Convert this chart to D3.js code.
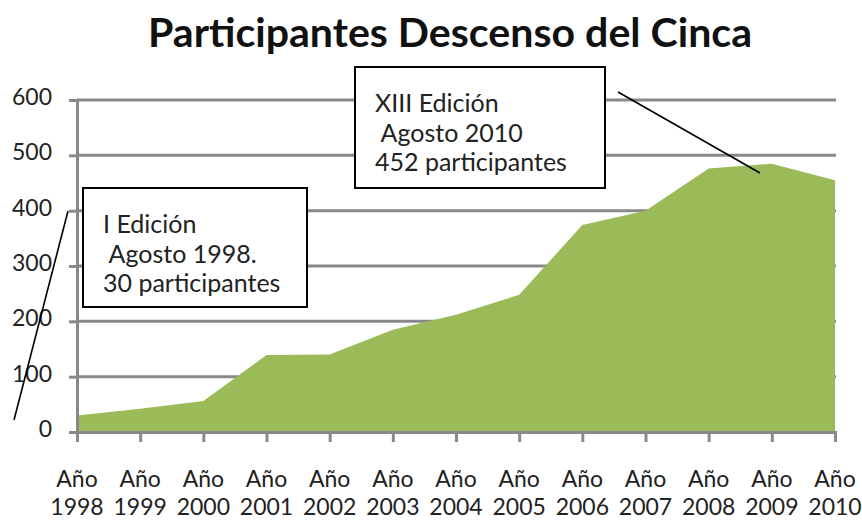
<!DOCTYPE html>
<html>
<head>
<meta charset="utf-8">
<script src="https://cdn.jsdelivr.net/npm/d3@7"></script>
<style>
  body { margin: 0; background: #fff; }
  svg { display: block; }
  text { font-family: Lato, "Open Sans", sans-serif; }
</style>
</head>
<body>
<div id="chart"></div>
<script>
// data
var years = ['1998', '1999', '2000', '2001', '2002', '2003', '2004', '2005', '2006', '2007', '2008', '2009', '2010'];
var participants = [30, 42, 56, 139, 140, 185, 212, 248, 374, 400, 476, 485, 455];
var yTicks = [0, 100, 200, 300, 400, 500, 600];
var title = 'Participantes Descenso del Cinca';
var noteFirst = ['I Edición', ' Agosto 1998.', '30 participantes'];
var noteLast = ['XIII Edición', ' Agosto 2010', '452 participantes'];

var W = 862, H = 522;
var plotLeft = 77, plotRight = 835, plotTop = 100, plotBottom = 432;

var svg = d3.select('#chart').append('svg')
    .attr('width', W)
    .attr('height', H);

var x = d3.scalePoint()
    .domain(years)
    .range([plotLeft, plotRight]);

var y = d3.scaleLinear()
    .domain([0, 600])
    .range([plotBottom, plotTop]);

var data = years.map(function (d, i) { return { year: d, value: participants[i] }; });

// title
svg.append('text')
    .attr('x', 148)
    .attr('y', 47)
    .attr('textLength', 604)
    .attr('lengthAdjust', 'spacingAndGlyphs')
    .style('font-size', '40px')
    .style('font-weight', 'bold')
    .style('fill', '#111')
    .text(title);

// gridlines
svg.append('g')
    .selectAll('line')
    .data(yTicks.slice(1))
    .enter().append('line')
    .attr('x1', plotLeft)
    .attr('x2', plotRight + 1)
    .attr('y1', function (d) { return y(d); })
    .attr('y2', function (d) { return y(d); })
    .attr('stroke', '#898989')
    .attr('stroke-width', 3);

// area
var area = d3.area()
    .x(function (d) { return x(d.year); })
    .y0(y(0))
    .y1(function (d) { return y(d.value); });

svg.append('path')
    .datum(data)
    .attr('fill', '#9bbb59')
    .attr('d', area);

// y axis
var yaxis = svg.append('g')
    .attr('transform', 'translate(' + plotLeft + ',0)')
    .call(d3.axisLeft(y).tickValues(yTicks).tickSize(8).tickPadding(17));
yaxis.select('.domain').attr('stroke', '#898989').attr('stroke-width', 3);
yaxis.selectAll('.tick line').attr('stroke', '#898989').attr('stroke-width', 3);
yaxis.selectAll('.tick text')
    .attr('dy', '0.32em')
    .attr('y', -3)
    .style('font-size', '23px')
    .style('font-family', 'Lato, sans-serif')
    .style('fill', '#222');

// x axis
var xaxis = svg.append('g')
    .attr('transform', 'translate(0,' + plotBottom + ')')
    .call(d3.axisBottom(x).tickSize(10).tickFormat(''));
xaxis.select('.domain').attr('stroke', '#898989').attr('stroke-width', 3);
xaxis.selectAll('.tick line').attr('stroke', '#898989').attr('stroke-width', 3);

var xl = svg.append('g').selectAll('text')
    .data(years)
    .enter().append('text')
    .attr('x', function (d) { return x(d); })
    .attr('text-anchor', 'middle')
    .style('font-size', '23px')
    .style('fill', '#222');
xl.append('tspan').attr('x', function (d) { return x(d); }).attr('y', 487).text('Año');
xl.append('tspan').attr('x', function (d) { return x(d); }).attr('y', 515).text(function (d) { return d; });

// annotation boxes with leader lines
function note(lines, bx, by, bw, bh, lx1, ly1, lx2, ly2) {
    svg.append('line')
        .attr('x1', lx1).attr('y1', ly1)
        .attr('x2', lx2).attr('y2', ly2)
        .attr('stroke', '#000')
        .attr('stroke-width', 1.6);
    svg.append('rect')
        .attr('x', bx).attr('y', by)
        .attr('width', bw).attr('height', bh)
        .attr('fill', '#fff')
        .attr('stroke', '#000')
        .attr('stroke-width', 2);
    var t = svg.append('text')
        .style('font-size', '25px')
        .style('fill', '#222')
        .style('white-space', 'pre');
    lines.forEach(function (s, i) {
        t.append('tspan')
            .attr('x', bx + 20)
            .attr('y', by + 45 + i * 29.5)
            .text(s);
    });
}

note(noteFirst, 83, 188, 224, 119, 68, 211, 14, 420);
note(noteLast, 355, 67, 250, 121, 618, 92, 760, 173);
</script>
</body>
</html>
